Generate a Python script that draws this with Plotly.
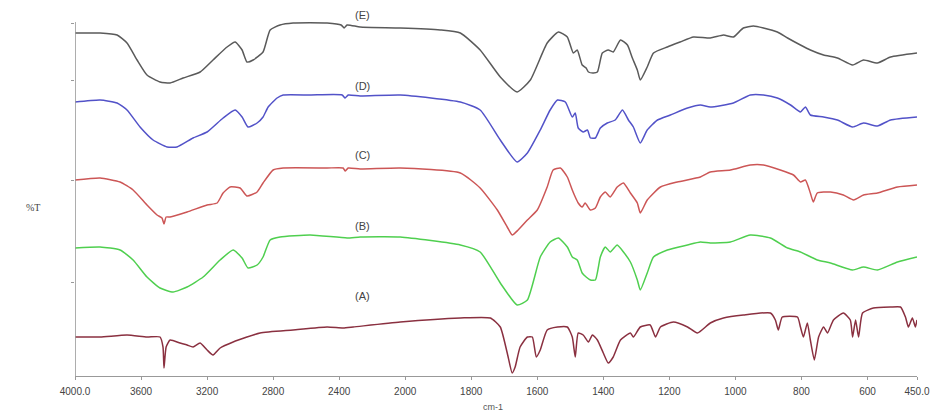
import plotly.graph_objects as go

# ---- data (wavenumber cm-1, %T offset units) ----
wn_E = [4000, 3848, 3745, 3685, 3624, 3564, 3485, 3424, 3345, 3242, 3164, 3079, 3030, 2988, 2958, 2921, 2861, 2818, 2758, 2679, 2473, 2388, 2370, 2352, 2273, 2030, 1894, 1833, 1773, 1712, 1661, 1621, 1570, 1536, 1509, 1491, 1479, 1464, 1452, 1445, 1430, 1418, 1403, 1385, 1370, 1348, 1327, 1312, 1297, 1288, 1267, 1248, 1206, 1167, 1127, 1076, 1036, 1006, 976, 945, 915, 873, 842, 803, 773, 733, 691, 645, 612, 570, 530, 450]
t_E = [367, 367, 365, 357, 340, 325, 318, 317, 322, 328, 340, 353, 358, 350, 338, 340, 348, 370, 375, 377, 377, 375, 372, 375, 373, 372, 370, 367, 350, 323, 308, 320, 357, 368, 363, 347, 350, 335, 332, 328, 327, 328, 347, 350, 348, 360, 355, 342, 330, 320, 333, 347, 353, 358, 363, 362, 365, 363, 372, 374, 372, 368, 362, 355, 350, 345, 342, 335, 340, 337, 343, 347]

wn_D = [4000, 3848, 3745, 3685, 3606, 3527, 3442, 3382, 3285, 3200, 3103, 3030, 2988, 2952, 2897, 2861, 2830, 2776, 2739, 2576, 2382, 2364, 2345, 2273, 2030, 1833, 1773, 1712, 1661, 1630, 1591, 1561, 1539, 1515, 1494, 1485, 1476, 1461, 1448, 1439, 1424, 1409, 1388, 1364, 1342, 1324, 1309, 1288, 1267, 1236, 1197, 1145, 1106, 1076, 1006, 955, 915, 873, 833, 803, 788, 773, 733, 691, 645, 612, 570, 530, 450]
t_D = [298, 300, 297, 290, 273, 260, 253, 253, 262, 268, 282, 290, 283, 273, 277, 283, 293, 302, 305, 305, 305, 302, 305, 304, 305, 298, 290, 260, 238, 247, 270, 290, 300, 298, 283, 287, 272, 268, 270, 262, 262, 272, 277, 280, 290, 280, 273, 257, 270, 280, 285, 292, 295, 293, 297, 305, 305, 302, 295, 288, 293, 285, 283, 280, 273, 277, 274, 280, 283]

wn_C = [4000, 3848, 3727, 3648, 3564, 3503, 3473, 3461, 3448, 3424, 3321, 3200, 3139, 3103, 3061, 3000, 2958, 2897, 2861, 2800, 2739, 2473, 2376, 2364, 2345, 2273, 2030, 1833, 1773, 1721, 1691, 1676, 1658, 1630, 1600, 1570, 1552, 1530, 1509, 1494, 1485, 1476, 1464, 1455, 1439, 1424, 1409, 1394, 1379, 1358, 1339, 1318, 1297, 1288, 1267, 1227, 1176, 1106, 1076, 1015, 955, 915, 864, 824, 803, 788, 773, 764, 752, 712, 673, 642, 612, 570, 509, 450]
t_C = [220, 222, 218, 210, 195, 185, 182, 176, 183, 183, 188, 195, 197, 207, 213, 212, 204, 208, 217, 230, 232, 232, 232, 229, 232, 231, 232, 227, 212, 190, 173, 165, 170, 180, 190, 213, 230, 232, 223, 210, 203, 197, 193, 197, 190, 192, 203, 208, 203, 213, 217, 207, 197, 187, 200, 213, 218, 223, 228, 230, 235, 235, 230, 225, 218, 220, 207, 198, 207, 208, 205, 200, 205, 207, 213, 215]

wn_B = [4000, 3848, 3727, 3648, 3564, 3485, 3406, 3321, 3224, 3121, 3042, 2988, 2952, 2897, 2861, 2818, 2758, 2576, 2352, 2273, 2030, 1833, 1773, 1712, 1661, 1630, 1591, 1561, 1536, 1509, 1494, 1479, 1464, 1452, 1439, 1424, 1409, 1394, 1379, 1358, 1339, 1318, 1297, 1288, 1267, 1248, 1206, 1145, 1106, 1076, 1015, 955, 894, 842, 803, 752, 712, 645, 612, 570, 509, 450]
t_B = [152, 153, 150, 140, 123, 112, 108, 113, 123, 140, 150, 142, 132, 135, 143, 160, 163, 165, 162, 163, 163, 155, 148, 117, 95, 100, 143, 158, 162, 153, 143, 140, 127, 123, 120, 120, 143, 153, 148, 155, 148, 138, 120, 110, 127, 143, 150, 155, 158, 157, 158, 165, 162, 152, 148, 140, 137, 130, 133, 130, 138, 143]

wn_A = [4000, 3848, 3685, 3564, 3485, 3467, 3461, 3448, 3424, 3364, 3321, 3285, 3242, 3200, 3164, 3121, 3042, 2879, 2679, 2473, 2376, 2315, 2030, 1833, 1742, 1712, 1691, 1676, 1667, 1652, 1630, 1615, 1603, 1591, 1570, 1539, 1509, 1494, 1485, 1476, 1461, 1445, 1433, 1418, 1400, 1385, 1370, 1348, 1318, 1309, 1288, 1258, 1242, 1227, 1188, 1145, 1115, 1076, 1036, 976, 894, 879, 870, 858, 812, 803, 794, 782, 773, 761, 748, 733, 721, 703, 673, 652, 645, 636, 627, 615, 582, 530, 500, 485, 476, 464, 455, 450]
t_A = [63, 63, 65, 63, 63, 53, 32, 53, 60, 57, 55, 53, 57, 50, 45, 52, 58, 67, 70, 73, 72, 73, 78, 82, 82, 73, 47, 27, 33, 53, 63, 63, 43, 50, 70, 73, 73, 63, 43, 67, 65, 58, 65, 60, 47, 37, 43, 60, 67, 63, 73, 75, 63, 73, 78, 73, 67, 77, 82, 85, 87, 80, 70, 83, 83, 73, 63, 77, 60, 40, 63, 73, 67, 80, 87, 80, 63, 80, 63, 87, 92, 93, 93, 83, 73, 82, 73, 80]

tick_wn = [4000, 3600, 3200, 2800, 2400, 2000, 1800, 1600, 1400, 1200, 1000, 800, 600, 450]
tick_labels = ["4000.0", "3600", "3200", "2800", "2400", "2000", "1800", "1600", "1400", "1200", "1000", "800", "600", "450.0"]

series = [
    ("(E)", wn_E, t_E, "#5a5a5a", 385),
    ("(D)", wn_D, t_D, "#5252c8", 314),
    ("(C)", wn_C, t_C, "#cc5656", 245),
    ("(B)", wn_B, t_B, "#4fcf4f", 174),
    ("(A)", wn_A, t_A, "#8a3040", 104),
]


def to_pos(w):
    # instrument-style split scale: 4000-2000 compressed, 2000-450 expanded
    return (4000 - w) / 400 if w >= 2000 else 5 + (2000 - w) / 200


fig = go.Figure()
for name, wn, t, col, ly in series:
    fig.add_trace(go.Scatter(x=[to_pos(w) for w in wn], y=t, mode="lines",
                             line=dict(color=col, width=1.5, shape="spline", smoothing=0.5),
                             name=name, showlegend=False))
    fig.add_annotation(x=to_pos(2260), y=ly, text=name, showarrow=False,
                       font=dict(size=11, color="#444", family="Liberation Sans"))

# y axis line (stops below the top label)
fig.add_shape(type="line", xref="x", yref="y", x0=0, x1=0, y0=24, y1=378,
              line=dict(color="#999", width=1.6))

fig.add_annotation(x=to_pos(1734), xref="x", yref="paper", y=0, yshift=-38,
                   text="cm-1", showarrow=False,
                   font=dict(size=9, color="#555", family="Liberation Sans"))
fig.add_annotation(xref="paper", x=-0.06, y=193, text="%T", showarrow=False,
                   font=dict(size=10, color="#444", family="Liberation Serif"))

fig.update_layout(
    width=930, height=404,
    margin=dict(l=67, r=21, t=0, b=36),
    plot_bgcolor="white", paper_bgcolor="white",
    xaxis=dict(range=[0, to_pos(450)], tickvals=[to_pos(v) for v in tick_wn],
               ticktext=tick_labels, showgrid=False, zeroline=False,
               showline=True, linecolor="#999", linewidth=1.2,
               ticks="outside", ticklen=3, tickcolor="#999", ticklabelstandoff=3,
               tickfont=dict(size=10, color="#444", family="Liberation Sans")),
    yaxis=dict(range=[24, 392], tickvals=[118, 220, 320, 377], showticklabels=False,
               showgrid=False, zeroline=False, showline=False,
               ticks="outside", ticklen=3, tickcolor="#999"),
)

fig.write_html("out.html")
